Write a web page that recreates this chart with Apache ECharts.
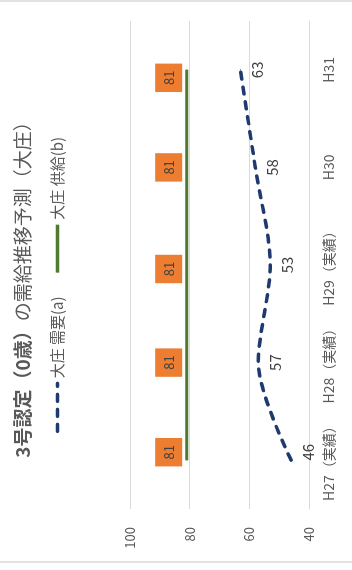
<!DOCTYPE html>
<html>
<head>
<meta charset="utf-8">
<script src="https://cdn.jsdelivr.net/npm/echarts@6/dist/echarts.min.js"></script>
<style>
  html, body { margin: 0; padding: 0; background: #fff; }
  #wrap { position: absolute; left: 0; top: 0; width: 352px; height: 570px; overflow: hidden; background: #fff; }
  /* chart is drawn landscape then turned a quarter left, like the picture */
  #chart { position: absolute; left: 0; top: 0; width: 570px; height: 352px;
           transform-origin: 0 0; transform: translate(0, 570px) rotate(-90deg); }
</style>
</head>
<body>
<div id="wrap"><div id="chart"></div></div>
<script>
// data
const categories = ['H27（実績）', 'H28（実績）', 'H29（実績）', 'H30', 'H31'];
const demand = [46, 57, 53, 58, 63];   // 大庄 需要(a)
const supply = [81, 81, 81, 81, 81];   // 大庄 供給(b)
const yMin = 40, yMax = 100, yStep = 20;

// labels at both ends sit a little inward in the original
const supplyShift = [8, 0, -4, 0, -8];
const demandShift = [8, 0, 0, 0, 0];

const font = '"Noto Sans CJK JP", "Noto Sans", sans-serif';
const grey = '#595959';

let chart = echarts.init(document.getElementById('chart'));
chart.setOption({
  backgroundColor: '#fff',
  animation: false,
  textStyle: { fontFamily: font },
  title: {
    left: 'center',
    top: 8,
    text: '{b|3号認定（0歳）}{n|の需給推移予測（大庄）}',
    textStyle: {
      rich: {
        b: { fontFamily: font, fontSize: 19, fontWeight: 'bold', color: grey },
        n: { fontFamily: font, fontSize: 19, fontWeight: 'normal', color: grey }
      }
    }
  },
  legend: {
    top: 45,
    left: 'center',
    itemWidth: 48,
    itemHeight: 12,
    itemGap: 22,
    itemStyle: { opacity: 0 },
    lineStyle: { width: 3.5 },
    textStyle: { fontFamily: font, fontSize: 15, color: grey },
    data: ['大庄 需要(a)', '大庄 供給(b)']
  },
  graphic: [{
    type: 'rect',
    shape: { x: 8, y: -5, width: 561, height: 362 },
    style: { fill: 'none', stroke: '#d9d9d9', lineWidth: 1.5 },
    silent: true
  }],
  grid: { left: 61, right: 21, top: 130, bottom: 43 },
  xAxis: {
    type: 'category',
    data: categories,
    boundaryGap: true,
    axisLine: { show: true, lineStyle: { color: '#d9d9d9' } },
    axisTick: { show: false },
    axisLabel: { margin: 13, fontSize: 14, color: grey, fontFamily: font, interval: 0 }
  },
  yAxis: {
    type: 'value',
    min: yMin,
    max: yMax,
    interval: yStep,
    axisLine: { show: false },
    axisTick: { show: false },
    splitLine: { lineStyle: { color: '#d9d9d9', width: 1 } },
    axisLabel: { margin: 18, fontSize: 13, color: grey, fontFamily: font }
  },
  series: [
    {
      name: '大庄 需要(a)',
      type: 'line',
      data: demand.map((v, i) => ({ value: v, label: { offset: [demandShift[i], 0] } })),
      smooth: 0.3,
      symbol: 'circle',
      symbolSize: 1,
      showSymbol: true,
      lineStyle: { color: '#1F3A6E', width: 3.5, type: [7, 8], cap: 'round' },
      itemStyle: { color: '#1F3A6E' },
      label: {
        show: true,
        position: 'bottom',
        distance: 9,
        fontSize: 15,
        color: '#404040',
        fontFamily: font
      },
      z: 3
    },
    {
      name: '大庄 供給(b)',
      type: 'line',
      data: supply.map((v, i) => ({ value: v, label: { offset: [supplyShift[i], 0] } })),
      symbol: 'circle',
      symbolSize: 1,
      showSymbol: true,
      lineStyle: { color: '#4F7A30', width: 3 },
      itemStyle: { color: '#4F7A30' },
      label: {
        show: true,
        position: 'top',
        distance: 4,
        fontSize: 13,
        lineHeight: 15,
        color: '#404040',
        backgroundColor: '#ED7D31',
        padding: [6, 7],
        fontFamily: font
      },
      z: 2
    }
  ]
});
</script>
</body>
</html>
